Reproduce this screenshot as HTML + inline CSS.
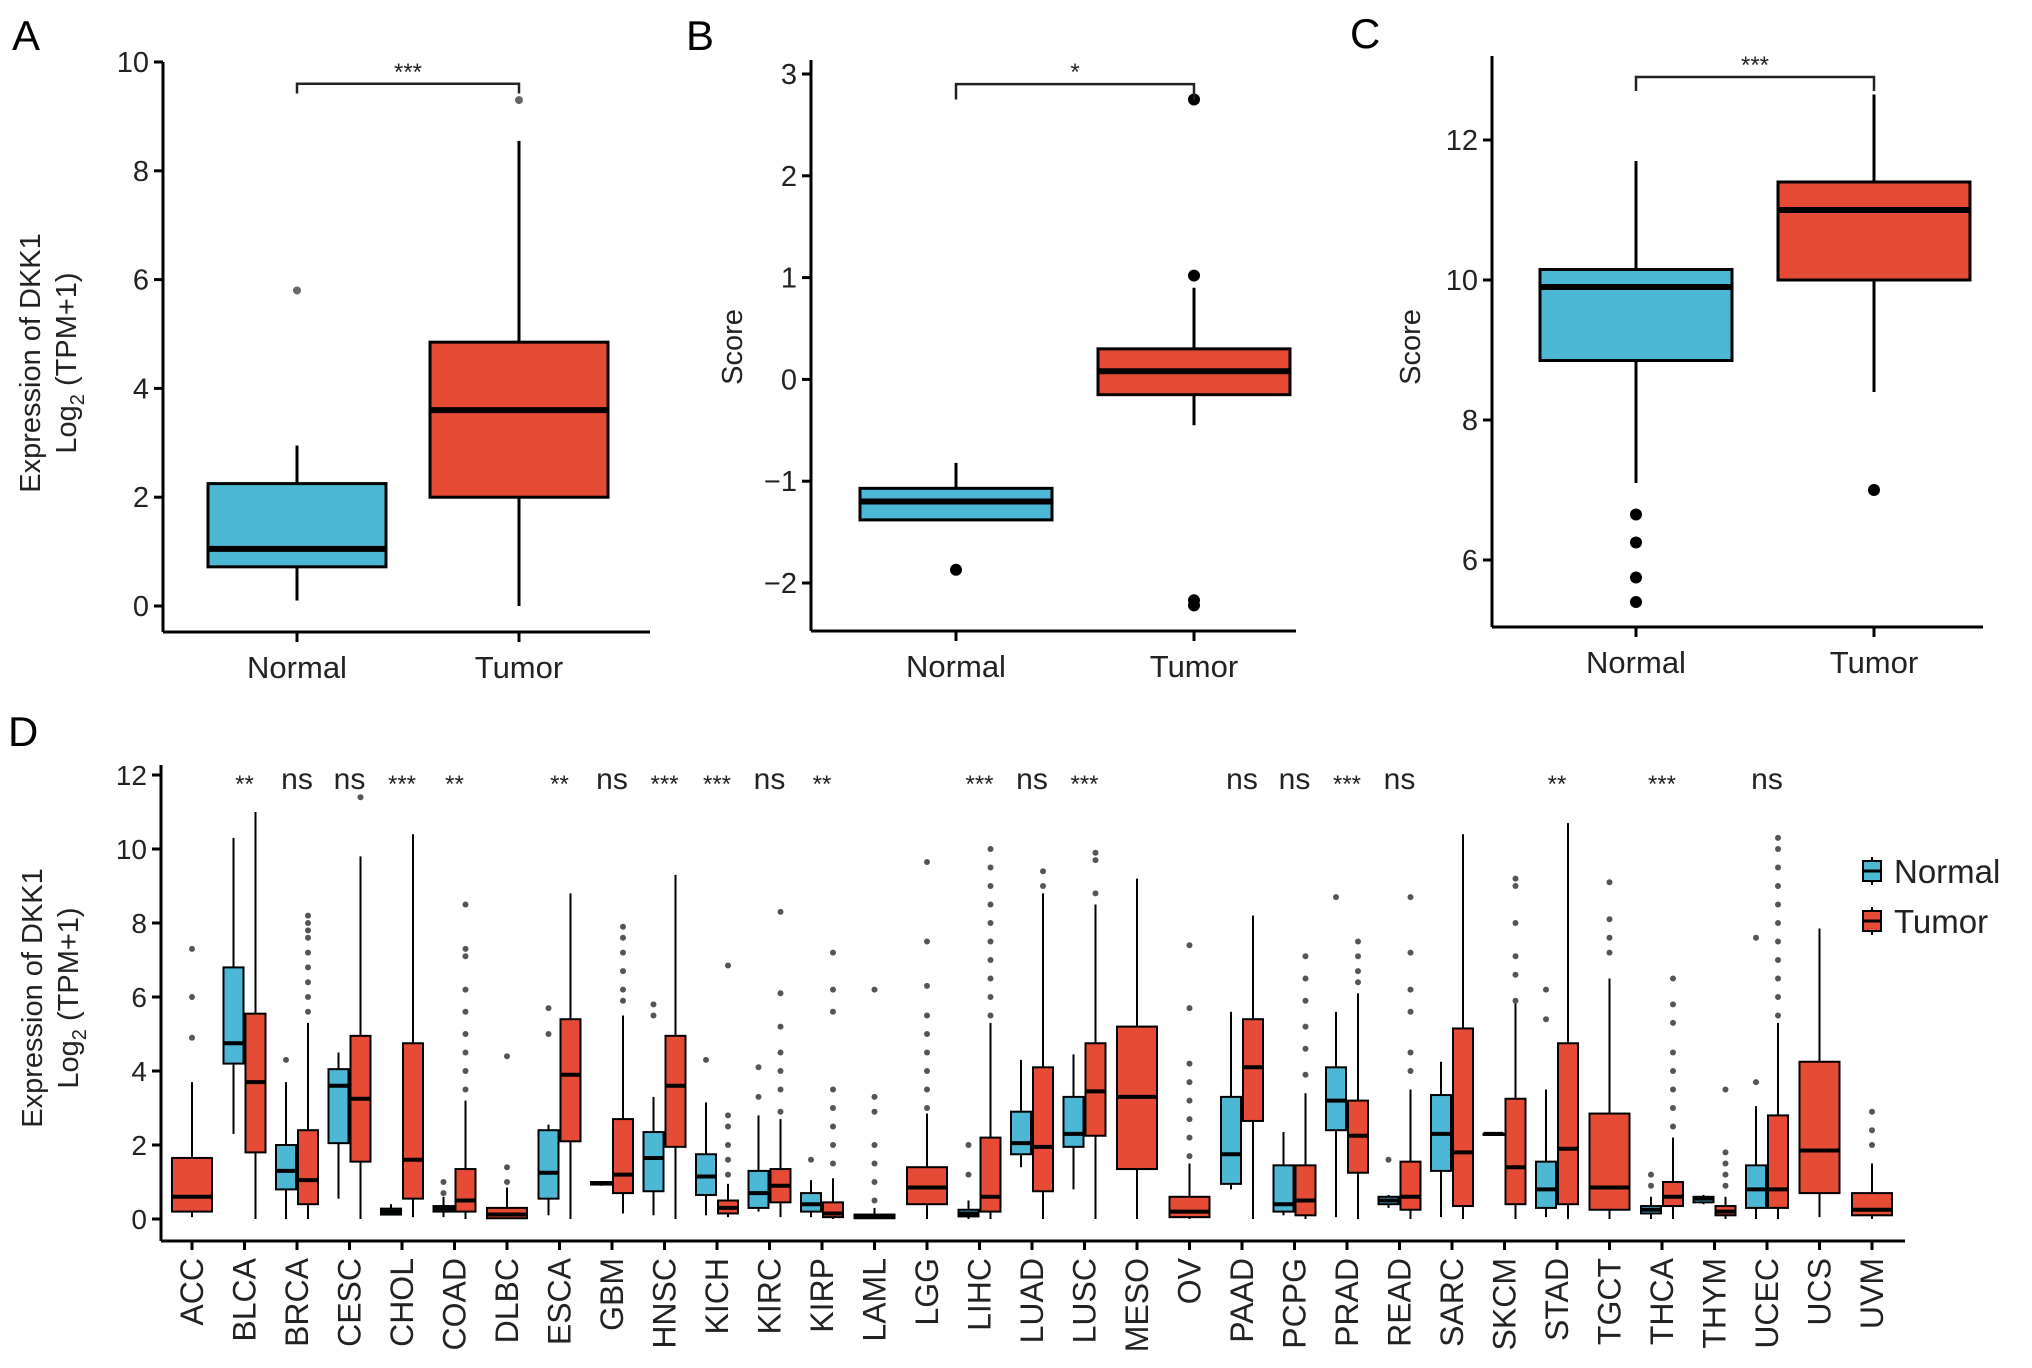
<!DOCTYPE html>
<html><head><meta charset="utf-8"><style>
body{margin:0;background:#fff}
svg{display:block;font-family:"Liberation Sans",sans-serif}
</style></head><body>
<svg id="s" width="2032" height="1368" viewBox="0 0 2032 1368" xmlns="http://www.w3.org/2000/svg">
<text x="12" y="50" font-size="42">A</text>
<text x="686" y="50" font-size="42">B</text>
<text x="1350" y="48" font-size="42">C</text>
<text x="8" y="746" font-size="42">D</text>
</svg>
<script>
const BLUE="#4DB8D6", RED="#E64B35";
// Panel A data
const aGroups=["Normal","Tumor"];
const aStats=[[0.1,0.72,1.05,2.25,2.95],[0,2.0,3.6,4.85,8.55]];
const aOut=[[5.8],[9.3]];
const aTicks=[0,2,4,6,8,10];
// Panel B data
const bGroups=["Normal","Tumor"];
const bStats=[[-1.38,-1.38,-1.2,-1.07,-0.82],[-0.45,-0.15,0.08,0.3,0.9]];
const bOut=[[-1.87],[1.02,2.75,-2.17,-2.22]];
const bTicks=[-2,-1,0,1,2,3];
// Panel C data
const cGroups=["Normal","Tumor"];
const cStats=[[7.1,8.85,9.9,10.15,11.7],[8.4,10,11,11.4,12.65]];
const cOut=[[6.65,6.25,5.75,5.4],[7.0]];
const cTicks=[6,8,10,12];
// Panel D data
const dCats=["ACC","BLCA","BRCA","CESC","CHOL","COAD","DLBC","ESCA","GBM","HNSC","KICH","KIRC","KIRP","LAML","LGG","LIHC","LUAD","LUSC","MESO","OV","PAAD","PCPG","PRAD","READ","SARC","SKCM","STAD","TGCT","THCA","THYM","UCEC","UCS","UVM"];
const dSig=["","**","ns","ns","***","**","","**","ns","***","***","ns","**","","","***","ns","***","","","ns","ns","***","ns","","","**","","***","","ns","",""];
const dNormal=[null,[2.3,4.2,4.75,6.8,10.3],[0,0.8,1.3,2,3.7],[0.55,2.05,3.6,4.05,4.5],[0.1,0.12,0.2,0.28,0.4],[0.05,0.2,0.28,0.35,0.6],null,[0.1,0.55,1.25,2.4,2.55],[0.9,0.93,0.97,1,1],[0.1,0.75,1.65,2.35,3.3],[0.1,0.65,1.15,1.75,3.15],[0.2,0.3,0.7,1.3,2.8],[0.05,0.2,0.4,0.7,1.05],null,null,[0,0.07,0.15,0.25,0.5],[1.4,1.75,2.05,2.9,4.3],[0.8,1.95,2.3,3.3,4.45],null,null,[0.8,0.95,1.75,3.3,5.6],[0.1,0.2,0.4,1.45,2.35],[0.05,2.4,3.2,4.1,5.6],[0.3,0.4,0.5,0.6,0.65],[0.05,1.3,2.3,3.35,4.25],[2.3,2.3,2.3,2.3,2.3],[0.05,0.3,0.8,1.55,3.5],null,[0,0.15,0.25,0.35,0.6],[0.4,0.45,0.55,0.6,0.65],[0,0.3,0.8,1.45,3.05],null,null];
const dTumor=[[0.05,0.2,0.6,1.65,3.7],[0,1.8,3.7,5.55,11],[0,0.4,1.05,2.4,5.3],[0,1.55,3.25,4.95,9.8],[0.05,0.55,1.6,4.75,10.4],[0,0.2,0.5,1.35,3.2],[0,0.02,0.12,0.3,0.85],[0,2.1,3.9,5.4,8.8],[0.15,0.7,1.2,2.7,5.5],[0,1.95,3.6,4.95,9.3],[0.05,0.15,0.3,0.5,0.95],[0.05,0.45,0.9,1.35,2.7],[0,0.05,0.15,0.45,1.1],[0,0.02,0.06,0.12,0.3],[0,0.4,0.85,1.4,2.85],[0,0.2,0.6,2.2,5.3],[0,0.75,1.95,4.1,8.8],[0,2.25,3.45,4.75,8.5],[0,1.35,3.3,5.2,9.2],[0,0.05,0.2,0.6,1.5],[0,2.65,4.1,5.4,8.2],[0,0.1,0.5,1.45,3.4],[0,1.25,2.25,3.2,6.1],[0,0.25,0.6,1.55,3.5],[0,0.35,1.8,5.15,10.4],[0,0.4,1.4,3.25,5.9],[0,0.4,1.9,4.75,10.7],[0,0.25,0.85,2.85,6.5],[0,0.35,0.6,1,2.2],[0,0.1,0.2,0.35,0.6],[0,0.3,0.8,2.8,5.3],[0.05,0.7,1.85,4.25,7.85],[0,0.1,0.25,0.7,1.5]];
const dNormalOut=[[],[],[4.3],[],[],[1.0,0.7],[],[5.0,5.7],[],[5.5,5.8],[4.3],[3.3,4.1],[1.6],[],[],[1.2,2.0],[],[],[],[],[],[],[8.7],[1.6],[],[],[5.4,6.2],[],[1.2,0.9],[],[3.7,7.6],[],[]];
const dTumorOut=[[4.9,6.0,7.3],[],[5.6,6.0,6.4,6.8,7.2,7.6,7.8,8.0,8.2],[11.4],[],[3.5,4.0,4.5,5.0,5.6,6.2,7.1,7.3,8.5],[1.0,1.4,4.4],[],[5.9,6.2,6.7,7.2,7.6,7.9],[],[1.2,1.6,2.0,2.5,2.8,6.85],[2.9,3.5,4.0,4.5,5.2,6.1,8.3],[1.5,2.0,2.5,3.0,3.5,5.6,6.2,7.2],[0.5,1.0,1.5,2.0,2.9,3.3,6.2],[3.0,3.5,4.0,4.5,5.0,5.5,6.3,7.5,9.65],[5.5,6.0,6.5,7.0,7.5,8.0,8.5,9.0,9.5,10.0],[9.0,9.4],[8.8,9.7,9.9],[],[1.7,2.2,2.7,3.2,3.7,4.2,5.7,7.4],[],[3.9,4.6,5.2,5.9,6.5,7.1],[6.4,6.7,7.1,7.5],[4.0,4.5,5.6,6.2,7.2,8.7],[],[5.9,6.6,7.1,8.0,9.0,9.2],[],[7.2,7.6,8.1,9.1],[2.5,3.0,3.5,4.0,4.5,5.3,5.8,6.5],[0.9,1.2,1.5,1.8,3.5],[5.5,6.0,6.5,7.0,7.5,8.0,8.5,9.0,9.5,10.0,10.3],[],[2.0,2.4,2.9]];
const dTicks=[0,2,4,6,8,10,12];

const NS="http://www.w3.org/2000/svg";
const svg=document.getElementById("s");
function el(tag,attrs,parent){const e=document.createElementNS(NS,tag);for(const k in attrs)e.setAttribute(k,attrs[k]);(parent||svg).appendChild(e);return e;}

function drawBox(g,cx,hw,st,yf,fill,sw,msw,name){
  const bg=el("g",{},g);
  
  
  el("line",{x1:cx,x2:cx,y1:yf(st[0]),y2:yf(st[1]),stroke:"#000","stroke-width":sw},bg);
  el("line",{x1:cx,x2:cx,y1:yf(st[3]),y2:yf(st[4]),stroke:"#000","stroke-width":sw},bg);
  el("rect",{x:cx-hw,y:yf(st[3]),width:2*hw,height:Math.max(yf(st[1])-yf(st[3]),1),fill:fill,stroke:"#000","stroke-width":sw},bg);
  el("line",{x1:cx-hw,x2:cx+hw,y1:yf(st[2]),y2:yf(st[2]),stroke:"#000","stroke-width":msw},bg);
}

function panel(cfg){
  const g=el("g",{});
  
  
  const yf=v=>cfg.y0+(v-cfg.v0)*(cfg.y1-cfg.y0)/(cfg.v1-cfg.v0);
  const xs=[cfg.xN,cfg.xT];
  el("line",{x1:cfg.ax,x2:cfg.ax,y1:cfg.axTop,y2:cfg.axBot,stroke:"#000","stroke-width":3},g);
  el("line",{x1:cfg.ax,x2:cfg.axRight,y1:cfg.axBot,y2:cfg.axBot,stroke:"#000","stroke-width":3},g);
  cfg.ticks.forEach(t=>{
    el("line",{x1:cfg.ax-9,x2:cfg.ax,y1:yf(t),y2:yf(t),stroke:"#000","stroke-width":3},g);
    const tx=el("text",{x:cfg.ax-14,y:yf(t)+10,"font-size":29,"text-anchor":"end",fill:"#222"},g);
    tx.textContent=(t<0?"\u2212"+(-t):t);
    
    
  });
  cfg.groups.forEach((gr,i)=>{
    el("line",{x1:xs[i],x2:xs[i],y1:cfg.axBot,y2:cfg.axBot+10,stroke:"#000","stroke-width":3},g);
    const tx=el("text",{x:xs[i],y:cfg.axBot+46,"font-size":31,"text-anchor":"middle",fill:"#222"},g);
    tx.textContent=gr;
    
    
    drawBox(g,xs[i],cfg.hw,cfg.stats[i],yf,i?RED:BLUE,3,6,"box-"+gr.toLowerCase());
    cfg.out[i].forEach(v=>{
      const c=el("circle",{cx:xs[i],cy:yf(v),r:cfg.r,fill:cfg.oc},g);
      
      
    });
  });
  const by=yf(cfg.brk), bt=yf(cfg.brkT);
  const br=el("path",{d:`M${xs[0]},${bt} V${by} H${xs[1]} V${bt}`,fill:"none",stroke:"#222","stroke-width":2.5},g);
  
  
  const st=el("text",{x:(xs[0]+xs[1])/2,y:by-4,"font-size":24,"text-anchor":"middle",fill:"#222"},g);
  st.textContent=cfg.sig;
  
  
  const yl=el("text",{transform:`translate(${cfg.ylx},${cfg.yly}) rotate(-90)`,"font-size":29,"text-anchor":"middle",fill:"#222"},g);
  
  
  if(cfg.twoLine){
    el("tspan",{x:0,dy:0},yl).textContent="Expression of DKK1";
    el("tspan",{x:0,dy:36},yl).textContent="Log";
    el("tspan",{"font-size":20,dy:8},yl).textContent="2";
    el("tspan",{dy:-8},yl).textContent=" (TPM+1)";
  } else yl.textContent="Score";
}

panel({name:"panel-a",groups:aGroups,stats:aStats,out:aOut,ticks:aTicks,v0:0,v1:10,y0:606,y1:62,ax:163,axTop:62,axBot:632,axRight:650,xN:297,xT:519,hw:89,r:4,oc:"#666",brk:9.6,brkT:9.42,sig:"***",ylx:40,yly:363,twoLine:true});
panel({name:"panel-b",groups:bGroups,stats:bStats,out:bOut,ticks:bTicks,v0:-2,v1:3,y0:583,y1:74,ax:811,axTop:60,axBot:631,axRight:1296,xN:956,xT:1194,hw:96,r:6,oc:"#000",brk:2.9,brkT:2.75,sig:"*",ylx:742,yly:347});
panel({name:"panel-c",groups:cGroups,stats:cStats,out:cOut,ticks:cTicks,v0:6,v1:12,y0:560,y1:140,ax:1492,axTop:56,axBot:627,axRight:1983,xN:1636,xT:1874,hw:96,r:6,oc:"#000",brk:12.9,brkT:12.7,sig:"***",ylx:1420,yly:347});

// Panel D
(function(){
  const g=el("g",{});
  
  
  const yf=v=>1219+v*(775-1219)/12;
  const x0=192, step=52.5;
  const xf=i=>x0+i*step;
  el("line",{x1:161,x2:161,y1:765,y2:1241,stroke:"#000","stroke-width":3},g);
  el("line",{x1:161,x2:1905,y1:1241,y2:1241,stroke:"#000","stroke-width":3},g);
  dTicks.forEach(t=>{
    el("line",{x1:152,x2:161,y1:yf(t),y2:yf(t),stroke:"#000","stroke-width":3},g);
    const tx=el("text",{x:147,y:yf(t)+10,"font-size":28,"text-anchor":"end",fill:"#222"},g);
    tx.textContent=t;
    
    
  });
  dCats.forEach((c,i)=>{
    const cx=xf(i);
    el("line",{x1:cx,x2:cx,y1:1241,y2:1250,stroke:"#000","stroke-width":3},g);
    const tx=el("text",{transform:`translate(${cx+11},1258) rotate(-90)`,"font-size":32,"text-anchor":"end",fill:"#222"},g);
    tx.textContent=c;
    
    
    if(dSig[i]){
      const s=el("text",{x:cx,y:dSig[i]=="ns"?789:792,"font-size":dSig[i]=="ns"?30:24,"text-anchor":"middle",fill:"#222"},g);
      s.textContent=dSig[i];
      
      
    }
    const paired=dNormal[i]!=null;
    if(paired){
      drawBox(g,cx-11,10,dNormal[i],yf,BLUE,2,4,"box-normal-"+c.toLowerCase());
      dNormalOut[i].forEach(v=>{
        const p=el("circle",{cx:cx-11,cy:yf(v),r:3,fill:"#555"},g);
        
        
      });
    }
    const tx2=paired?cx+11:cx, hw=paired?10:20;
    drawBox(g,tx2,hw,dTumor[i],yf,RED,2,4,"box-tumor-"+c.toLowerCase());
    dTumorOut[i].forEach(v=>{
      const p=el("circle",{cx:tx2,cy:yf(v),r:3,fill:"#555"},g);
      
      
    });
  });
  const yl=el("text",{transform:"translate(42,998) rotate(-90)","font-size":29,"text-anchor":"middle",fill:"#222"},g);
  
  
  el("tspan",{x:0,dy:0},yl).textContent="Expression of DKK1";
  el("tspan",{x:0,dy:36},yl).textContent="Log";
  el("tspan",{"font-size":20,dy:8},yl).textContent="2";
  el("tspan",{dy:-8},yl).textContent=" (TPM+1)";
  const lg=el("g",{},g);
  
  
  [["Normal",BLUE,871],["Tumor",RED,921]].forEach(([n,col,y])=>{
    const e=el("g",{},lg);
    
    
    el("line",{x1:1872,x2:1872,y1:y-14,y2:y+14,stroke:"#000","stroke-width":2},e);
    el("rect",{x:1863,y:y-10,width:18,height:20,fill:col,stroke:"#000","stroke-width":2},e);
    el("line",{x1:1863,x2:1881,y1:y,y2:y,stroke:"#000","stroke-width":3},e);
    el("text",{x:1894,y:y+12,"font-size":33,fill:"#222"},e).textContent=n;
  });
})();
</script>
</body></html>
